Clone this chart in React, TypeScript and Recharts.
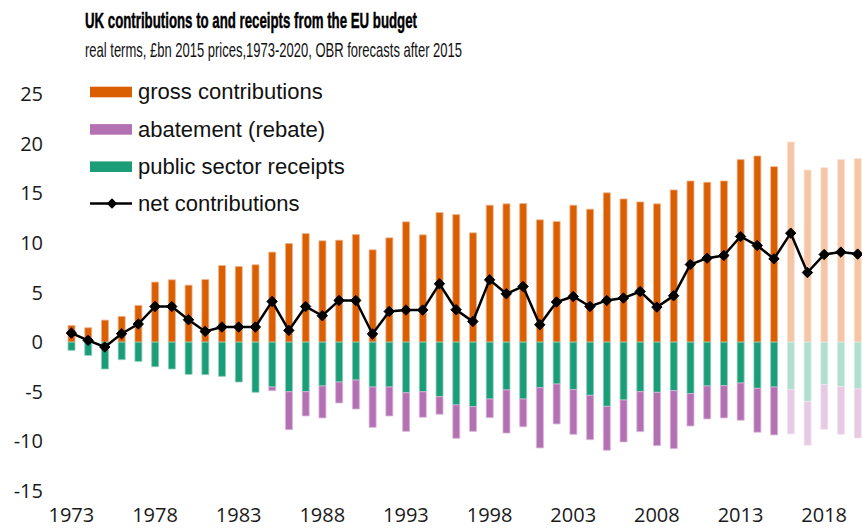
import React from "react";
import { ComposedChart, Bar, Line, XAxis, YAxis, Cell } from "recharts";

const years: number[] = [
  1973, 1974, 1975, 1976, 1977, 1978, 1979, 1980, 1981, 1982, 1983, 1984,
  1985, 1986, 1987, 1988, 1989, 1990, 1991, 1992, 1993, 1994, 1995, 1996,
  1997, 1998, 1999, 2000, 2001, 2002, 2003, 2004, 2005, 2006, 2007, 2008,
  2009, 2010, 2011, 2012, 2013, 2014, 2015, 2016, 2017, 2018, 2019, 2020,
];

const grossContributions: number[] = [
  1.68, 1.45, 2.22, 2.59, 3.7, 6.05, 6.28, 5.74, 6.31, 7.72, 7.62, 7.79,
  9.07, 9.94, 10.94, 10.21, 10.27, 10.84, 9.3, 10.51, 12.12, 10.81, 13.05, 12.85,
  11.01, 13.8, 13.93, 13.96, 12.32, 12.15, 13.8, 13.4, 15.04, 14.43, 14.13, 13.93,
  15.34, 16.24, 16.11, 16.24, 18.39, 18.76, 17.68, 20.17, 17.35, 17.58, 18.39, 18.49,
];

const publicSectorReceipts: number[] = [
  -0.83, -1.34, -2.71, -1.77, -1.94, -2.48, -2.71, -3.25, -3.28, -3.45, -4.02, -5.06,
  -4.52, -5.0, -4.99, -4.42, -4.02, -3.82, -4.52, -4.52, -5.1, -5.0, -5.5, -6.33,
  -6.5, -5.73, -4.82, -5.73, -4.59, -4.22, -4.79, -5.36, -6.47, -5.83, -4.99, -5.06,
  -4.89, -5.19, -4.42, -4.39, -4.12, -4.66, -4.52, -4.79, -5.97, -4.29, -4.49, -4.72,
];

const abatement: (number | null)[] = [
  null, null, null, null, null, null, null, null, null, null, null, null,
  -0.37, -3.82, -2.45, -3.22, -2.11, -2.92, -4.07, -2.92, -3.89, -2.57, -1.77, -3.36,
  -2.49, -1.88, -4.34, -2.8, -6.07, -4.02, -4.5, -4.47, -4.43, -4.23, -4.03, -5.37,
  -5.84, -3.26, -3.32, -3.25, -3.75, -4.42, -4.83, -4.46, -4.42, -4.5, -4.8, -4.94,
];

const netContributions: number[] = [
  0.91, 0.18, -0.49, 0.85, 1.82, 3.59, 3.59, 2.25, 1.08, 1.52, 1.52, 1.52,
  4.1, 1.18, 3.59, 2.66, 4.2, 4.2, 0.82, 3.09, 3.23, 3.23, 5.88, 3.26,
  2.08, 6.28, 4.87, 5.61, 1.75, 4.04, 4.6, 3.59, 4.2, 4.44, 5.1, 3.53,
  4.67, 7.82, 8.46, 8.73, 10.64, 9.73, 8.39, 10.98, 7.01, 8.83, 9.07, 8.87,
];

const yTicks: number[] = [-15, -10, -5, 0, 5, 10, 15, 20, 25];
const lastActualYear = 2015;

const ORANGE = "#D95F02";
const ORANGE_L = "#F4C6A5";
const GREEN = "#1B9E77";
const GREEN_L = "#B1DFCF";
const PURPLE = "#B371B3";
const PURPLE_L = "#E6C9E3";

const data = years.map((y, i) => ({
  year: y,
  gross: grossContributions[i],
  receipts: publicSectorReceipts[i],
  abatement: abatement[i],
  net: netContributions[i],
}));

const tickStyle = { fontFamily: "'Open Sans', sans-serif", fontSize: 20, fill: "#1a1a1a" };

const Diamond = (props: any) => {
  const { cx, cy, index } = props;
  if (cx == null || cy == null) return <g key={"d" + index} />;
  const r = 5.2;
  return (
    <path
      key={"d" + index}
      d={`M${cx},${cy - r}L${cx + r},${cy}L${cx},${cy + r}L${cx - r},${cy}Z`}
      fill="#000"
      stroke="#000"
      strokeWidth={1}
    />
  );
};

const legendItems = [
  { label: "gross contributions", color: ORANGE, y: 92 },
  { label: "abatement (rebate)", color: PURPLE, y: 129.4 },
  { label: "public sector receipts", color: GREEN, y: 166.7 },
];

export default function App() {
  return (
    <div style={{ position: "relative", width: 862, height: 528, overflow: "hidden" }}>
      <style>{`html,body{margin:0;padding:0;overflow:hidden;}`}</style>
      <ComposedChart
        width={866}
        height={528}
        data={data}
        stackOffset="sign"
        barCategoryGap={0}
        margin={{ top: 94, right: 0, bottom: 7, left: 0 }}
      >
        <XAxis
          dataKey="year"
          interval={4}
          tickLine={false}
          axisLine={false}
          tickSize={6}
          tickMargin={11}
          height={30}
          tick={tickStyle}
        />
        <YAxis
          type="number"
          domain={[-15, 25]}
          ticks={yTicks}
          width={63}
          tickLine={false}
          axisLine={false}
          tickSize={6}
          tickMargin={14}
          tick={tickStyle}
        />
        <Bar dataKey="gross" stackId="s" barSize={7} isAnimationActive={false} strokeWidth={0.8}>
          {data.map((d, i) => (
            <Cell
              key={"g" + i}
              fill={d.year > lastActualYear ? ORANGE_L : ORANGE}
              stroke={d.year > lastActualYear ? "#FBE3D2" : "#F0B48C"}
            />
          ))}
        </Bar>
        <Bar dataKey="receipts" stackId="s" barSize={7} isAnimationActive={false} strokeWidth={0.8}>
          {data.map((d, i) => (
            <Cell
              key={"r" + i}
              fill={d.year > lastActualYear ? GREEN_L : GREEN}
              stroke={d.year > lastActualYear ? "#D8EFE7" : "#8FD0BC"}
            />
          ))}
        </Bar>
        <Bar dataKey="abatement" stackId="s" barSize={7} isAnimationActive={false} strokeWidth={0.8}>
          {data.map((d, i) => (
            <Cell
              key={"a" + i}
              fill={d.year > lastActualYear ? PURPLE_L : PURPLE}
              stroke={d.year > lastActualYear ? "#F2E4F1" : "#D9B8D9"}
            />
          ))}
        </Bar>
        <Line
          dataKey="net"
          type="linear"
          stroke="#000"
          strokeWidth={2.5}
          dot={<Diamond />}
          activeDot={false}
          isAnimationActive={false}
        />
      </ComposedChart>
      <svg
        width={862}
        height={528}
        style={{ position: "absolute", left: 0, top: 0, pointerEvents: "none" }}
      >
        <text
          x={85}
          y={28}
          fontFamily="'Liberation Sans Narrow', 'Liberation Sans', sans-serif"
          fontWeight="bold"
          fontSize={22}
          fill="#000"
          stroke="#000"
          strokeWidth={0.45}
          textLength={332}
          lengthAdjust="spacingAndGlyphs"
        >
          UK contributions to and receipts from the EU budget
        </text>
        <text
          x={85}
          y={56.5}
          fontFamily="'Liberation Sans Narrow', 'Liberation Sans', sans-serif"
          fontSize={21}
          fill="#111"
          textLength={377}
          lengthAdjust="spacingAndGlyphs"
        >
          real terms, £bn 2015 prices,1973-2020, OBR forecasts after 2015
        </text>
        {legendItems.map((it) => (
          <g key={it.label}>
            <rect x={90} y={it.y - 5.3} width={42} height={10.6} fill={it.color} />
            <text
              x={138}
              y={it.y + 7.3}
              fontFamily="'Liberation Sans', Arial, sans-serif"
              fontSize={22}
              fill="#111"
            >
              {it.label}
            </text>
          </g>
        ))}
        <g>
          <line x1={90} x2={132} y1={203.5} y2={203.5} stroke="#000" strokeWidth={2.5} />
          <path d="M112,198.3L117.2,203.5L112,208.7L106.8,203.5Z" fill="#000" />
          <text
            x={138}
            y={210.8}
            fontFamily="'Liberation Sans', Arial, sans-serif"
            fontSize={22}
            fill="#111"
          >
            net contributions
          </text>
        </g>
      </svg>
    </div>
  );
}
